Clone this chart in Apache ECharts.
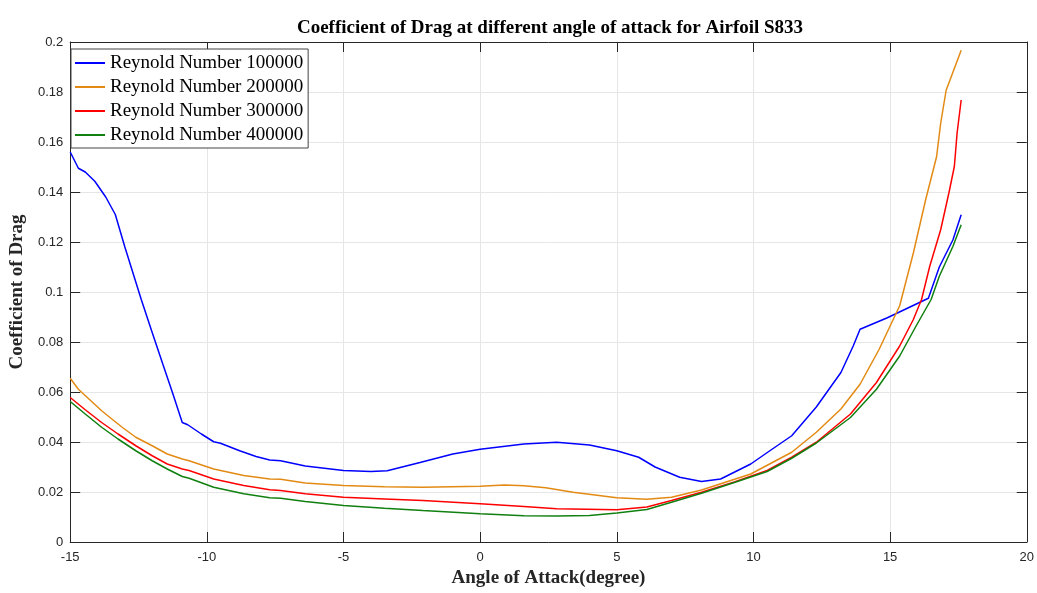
<!DOCTYPE html>
<html>
<head>
<meta charset="utf-8">
<script src="https://cdn.jsdelivr.net/npm/echarts@6/dist/echarts.min.js"></script>
<style>
  html, body { margin: 0; padding: 0; background: #fff; }
  #chart { width: 1037px; height: 593px; }
</style>
</head>
<body>
<div id="chart"></div>
<script>
// Reynold Number 100000
const angle100 = [-15, -14.7, -14.45, -14.1, -13.7, -13.35, -13.0, -12.4, -12.0, -11.6, -11.25, -10.9, -10.7, -10.2, -9.75, -9.5, -8.8, -8.2, -7.7, -7.3, -6.4, -5.0, -4.0, -3.4, -2.2, -1.0, 0.0, 1.6, 2.8, 4.0, 5.0, 5.8, 6.4, 7.3, 8.1, 8.8, 9.9, 10.6, 11.4, 12.3, 13.2, 13.65, 13.9, 14.9, 16.4, 16.8, 17.3, 17.6];
const cd100 = [0.156, 0.1495, 0.148, 0.1443, 0.138, 0.131, 0.118, 0.097, 0.0838, 0.0708, 0.0595, 0.0478, 0.0469, 0.0432, 0.0401, 0.0395, 0.0365, 0.0342, 0.0328, 0.0325, 0.0304, 0.0286, 0.0282, 0.0285, 0.0318, 0.0352, 0.0371, 0.0392, 0.0399, 0.0388, 0.0365, 0.0339, 0.0300, 0.0259, 0.0242, 0.0252, 0.0312, 0.0365, 0.0425, 0.0540, 0.0678, 0.0784, 0.0851, 0.0897, 0.0975, 0.110, 0.1209, 0.1309];

// Reynold Number 200000
const angle200 = [-15, -14.7, -13.85, -13.1, -12.6, -12.0, -11.45, -10.9, -10.65, -9.75, -8.65, -7.7, -7.3, -6.4, -5, -3.5, -2.1, 0, 0.9, 1.6, 2.4, 3.4, 5.0, 6.1, 7.0, 8.1, 9.0, 9.9, 11.4, 12.3, 13.2, 13.9, 14.6, 15.0, 15.35, 15.85, 16.3, 16.7, 16.85, 17.05, 17.6];
const cd200 = [0.0655, 0.0611, 0.0525, 0.0459, 0.0419, 0.0385, 0.0352, 0.0332, 0.0325, 0.0292, 0.0266, 0.0252, 0.0251, 0.0236, 0.0226, 0.0221, 0.0219, 0.0223, 0.0228, 0.0225, 0.0217, 0.0199, 0.0177, 0.0171, 0.0179, 0.0208, 0.0240, 0.0272, 0.0359, 0.0439, 0.0532, 0.0631, 0.0771, 0.0864, 0.0945, 0.1156, 0.1369, 0.1541, 0.1675, 0.1807, 0.1967];

// Reynold Number 300000
const angle300 = [-15, -14.45, -13.85, -13.25, -12.6, -12.0, -11.45, -10.9, -10.65, -9.75, -8.65, -7.7, -7.3, -6.4, -5, -3.5, -2.1, 0, 1.6, 2.8, 5.0, 6.1, 7.0, 8.1, 9.3, 10.5, 11.4, 12.3, 13.55, 14.5, 15.35, 15.85, 16.15, 16.45, 16.85, 17.15, 17.35, 17.45, 17.6];
const cd300 = [0.0578, 0.0529, 0.0478, 0.0432, 0.0385, 0.0345, 0.0312, 0.0292, 0.0286, 0.0252, 0.0226, 0.0209, 0.0206, 0.0193, 0.0179, 0.0172, 0.0166, 0.0153, 0.0142, 0.0133, 0.0129, 0.0140, 0.0166, 0.0199, 0.0240, 0.0286, 0.0339, 0.0399, 0.0512, 0.0638, 0.0784, 0.0890, 0.0970, 0.1103, 0.1249, 0.1396, 0.1502, 0.1635, 0.1768];

// Reynold Number 400000
const angle400 = [-15, -14.45, -13.85, -13.25, -12.6, -12.0, -11.45, -10.9, -10.65, -9.75, -8.65, -7.7, -7.3, -6.4, -5, -3.5, -2.1, 0, 1.6, 2.8, 4.0, 5.0, 6.1, 7.0, 8.1, 9.3, 10.5, 11.4, 12.3, 13.55, 14.5, 15.35, 15.95, 16.5, 16.8, 17.3, 17.6];
const cd400 = [0.0562, 0.0512, 0.0459, 0.0412, 0.0365, 0.0325, 0.0292, 0.0262, 0.0255, 0.0219, 0.0193, 0.0177, 0.0175, 0.0162, 0.0146, 0.0135, 0.0126, 0.0113, 0.0105, 0.0104, 0.0106, 0.0116, 0.0130, 0.0159, 0.0195, 0.0238, 0.0282, 0.0335, 0.0396, 0.0498, 0.0611, 0.0744, 0.0864, 0.0970, 0.1063, 0.1183, 0.1269];

const seriesNames = ['Reynold Number 100000', 'Reynold Number 200000', 'Reynold Number 300000', 'Reynold Number 400000'];
const seriesColors = ['#0000ff', '#e38a14', '#ff0000', '#108010'];
const angles = [angle100, angle200, angle300, angle400];
const values = [cd100, cd200, cd300, cd400];

const chart = echarts.init(document.getElementById('chart'));

const axisColor = '#262626';
const serif = '"Liberation Serif", "DejaVu Serif", serif';
const sans = '"Liberation Sans", Arial, sans-serif';

const series = seriesNames.map((name, i) => ({
  name: name,
  type: 'line',
  xAxisIndex: 0,
  yAxisIndex: 0,
  data: angles[i].map((a, k) => [a, values[i][k]]),
  symbol: 'none',
  smooth: false,
  lineStyle: { width: 1.5, color: seriesColors[i] },
  itemStyle: { color: seriesColors[i] }
}));

// mirrored box axes (top / right) like the MATLAB figure
const boxLine = { onZero: false, lineStyle: { color: axisColor, width: 1 } };
const boxTick = { show: true, inside: true, length: 10, lineStyle: { color: axisColor } };

const option = {
  animation: false,
  title: {
    text: 'Coefficient of Drag at different angle of attack for Airfoil S833',
    left: 545,
    top: 14,
    textAlign: 'center',
    textStyle: { fontFamily: serif, fontSize: 19, fontWeight: 'bold', color: '#000' }
  },
  legend: {
    data: seriesNames,
    orient: 'vertical',
    left: 71,
    top: 49,
    padding: [4, 5, 3, 4],
    icon: 'rect',
    itemWidth: 30,
    itemHeight: 2,
    itemGap: 4,
    backgroundColor: '#fff',
    borderColor: '#444',
    borderWidth: 1,
    textStyle: { fontFamily: serif, fontSize: 19, lineHeight: 20, color: '#000' }
  },
  grid: { left: 62, right: 9, top: 42, bottom: 50 },
  xAxis: [
    {
      type: 'value',
      min: -15,
      max: 20,
      interval: 5,
      name: 'Angle of Attack(degree)',
      nameLocation: 'middle',
      nameGap: 27,
      nameTextStyle: { fontFamily: serif, fontSize: 19, fontWeight: 'bold', color: '#262626' },
      axisLine: boxLine,
      axisTick: boxTick,
      axisLabel: { fontFamily: sans, fontSize: 13, color: axisColor, margin: 9 },
      splitLine: { show: true, lineStyle: { color: '#e6e6e6', width: 1 } }
    },
    {
      type: 'value',
      position: 'top',
      min: -15,
      max: 20,
      interval: 5,
      axisLine: boxLine,
      axisTick: boxTick,
      axisLabel: { show: false },
      splitLine: { show: false }
    }
  ],
  yAxis: [
    {
      type: 'value',
      min: 0,
      max: 0.2,
      interval: 0.02,
      name: 'Coefficient of Drag',
      nameLocation: 'middle',
      nameGap: 36,
      nameTextStyle: { fontFamily: serif, fontSize: 19, fontWeight: 'bold', color: '#262626' },
      axisLine: Object.assign({ show: true }, boxLine),
      axisTick: boxTick,
      axisLabel: { fontFamily: sans, fontSize: 13, color: axisColor, margin: 7 },
      splitLine: { show: true, lineStyle: { color: '#e6e6e6', width: 1 } }
    },
    {
      type: 'value',
      position: 'right',
      min: 0,
      max: 0.2,
      interval: 0.02,
      axisLine: Object.assign({ show: true }, boxLine),
      axisTick: boxTick,
      axisLabel: { show: false },
      splitLine: { show: false }
    }
  ],
  series: series
};

chart.setOption(option);
</script>
</body>
</html>
